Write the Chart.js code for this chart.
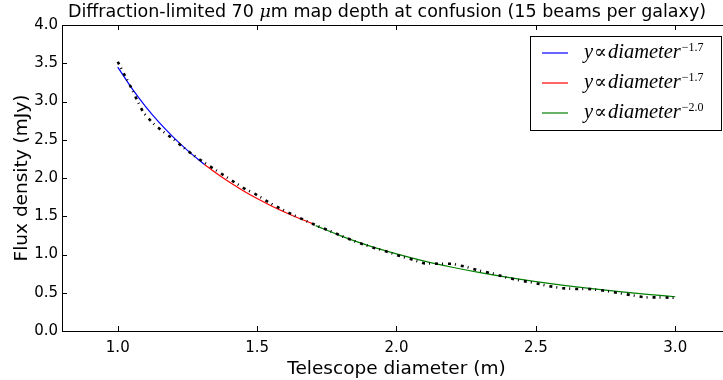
<!DOCTYPE html>
<html>
<head>
<meta charset="utf-8">
<script src="https://cdn.jsdelivr.net/npm/chart.js@4"></script>
<style>
  html, body { margin: 0; padding: 0; overflow: hidden; background: #fff; }
</style>
</head>
<body>
<canvas id="chart" width="733" height="380"></canvas>
<script>
const titleParts = ['Diffraction-limited 70 ', '\u03bc', 'm map depth at confusion (15 beams per galaxy)'];
const xTitle = 'Telescope diameter (m)';
const yTitle = 'Flux density (mJy)';
const xTicks = [1.0, 1.5, 2.0, 2.5, 3.0];
const yTicks = [0.0, 0.5, 1.0, 1.5, 2.0, 2.5, 3.0, 3.5, 4.0];

// measured map depth (black dash-dot curve)
const depthX = [1.00, 1.024, 1.047, 1.069, 1.091, 1.125, 1.161, 1.202, 1.242, 1.282, 1.323, 1.366, 1.408, 1.450, 1.494,
  1.538, 1.583, 1.628, 1.675, 1.719, 1.766, 1.811, 1.859, 1.907, 1.955, 2.003, 2.051, 2.098, 2.149, 2.199, 2.248,
  2.297, 2.346, 2.394, 2.443, 2.493, 2.542, 2.592, 2.641, 2.691, 2.740, 2.790, 2.841, 2.891, 2.941, 2.991, 3.0];
const depthY = [3.52, 3.35, 3.19, 3.02, 2.86, 2.72, 2.61, 2.50, 2.38, 2.27, 2.17, 2.07, 1.97, 1.87, 1.79,
  1.69, 1.60, 1.52, 1.44, 1.37, 1.30, 1.23, 1.16, 1.10, 1.05, 0.99, 0.94, 0.885, 0.88, 0.88, 0.84,
  0.79, 0.75, 0.70, 0.66, 0.63, 0.59, 0.56, 0.55, 0.55, 0.53, 0.50, 0.47, 0.44, 0.44, 0.435, 0.44];

// power-law fits
const blueX = [1.0, 1.05, 1.1, 1.15, 1.2, 1.25, 1.31];
const blueY = [3.45, 3.175, 2.934, 2.720, 2.531, 2.361, 2.180];
const redX = [1.31, 1.35, 1.4, 1.45, 1.5, 1.55, 1.6, 1.65, 1.7];
const redY = [2.180, 2.071, 1.947, 1.834, 1.732, 1.638, 1.552, 1.473, 1.400];
const greenX = [1.71, 1.8, 1.9, 2.0, 2.1, 2.2, 2.3, 2.4, 2.5, 2.6, 2.7, 2.8, 2.9, 3.0];
const greenY = [1.378, 1.244, 1.116, 1.008, 0.914, 0.833, 0.762, 0.700, 0.645, 0.596, 0.553, 0.514, 0.479, 0.448];
const fitExponents = ['\u22121.7', '\u22121.7', '\u22122.0'];
const fitColors = ['#0000ff', '#ff0000', '#008000'];

const pts = (xs, ys) => xs.map((x, i) => ({x: x, y: ys[i]}));

const frameAndLegend = {
  id: 'frameAndLegend',
  afterDraw(chart) {
    const ctx = chart.ctx;
    const a = chart.chartArea;
    const sx = chart.scales.x, sy = chart.scales.y;
    ctx.save();
    ctx.strokeStyle = '#000';
    ctx.lineWidth = 1;
    ctx.beginPath();
    xTicks.forEach(v => {
      const px = Math.round(sx.getPixelForValue(v)) + 0.5;
      ctx.moveTo(px, a.bottom); ctx.lineTo(px, a.bottom - 5);
      ctx.moveTo(px, a.top); ctx.lineTo(px, a.top + 5);
    });
    yTicks.forEach(v => {
      const py = Math.round(sy.getPixelForValue(v)) + 0.5;
      ctx.moveTo(a.left, py); ctx.lineTo(a.left + 5, py);
      ctx.moveTo(a.right, py); ctx.lineTo(a.right - 5, py);
    });
    ctx.stroke();
    ctx.strokeRect(Math.round(a.left) + 0.5, Math.round(a.top) + 0.5, Math.round(a.right - a.left), Math.round(a.bottom - a.top));

    // title, with an italic mu like matplotlib mathtext
    ctx.fillStyle = '#000';
    ctx.textBaseline = 'middle';
    ctx.textAlign = 'left';
    const fonts = ['17.5px "DejaVu Sans"', 'italic 17.5px "DejaVu Serif"', '17.5px "DejaVu Sans"'];
    let total = 0;
    titleParts.forEach((t, i) => { ctx.font = fonts[i]; total += ctx.measureText(t).width; });
    let tx = 387 - total / 2;
    titleParts.forEach((t, i) => { ctx.font = fonts[i]; ctx.fillText(t, tx, 12); tx += ctx.measureText(t).width; });

    // legend
    const bx = 530.5, by = 36.5, bw = 191, bh = 94;
    ctx.fillStyle = '#fff';
    ctx.fillRect(bx, by, bw, bh);
    ctx.strokeStyle = '#000';
    ctx.strokeRect(bx, by, bw, bh);
    ctx.textBaseline = 'alphabetic';
    fitExponents.forEach((e, i) => {
      const ly = 53 + i * 30;
      ctx.strokeStyle = fitColors[i];
      ctx.lineWidth = 1.2;
      ctx.beginPath();
      ctx.moveTo(542, ly); ctx.lineTo(568, ly);
      ctx.stroke();
      ctx.fillStyle = '#000';
      let x = 584;
      const base = ly + 5;
      ctx.font = 'italic 20.5px "Liberation Serif"';
      ctx.fillText('y', x, base); x += ctx.measureText('y').width + 1;
      ctx.font = '19px "DejaVu Serif"';
      ctx.fillText('\u221d', x, base); x += ctx.measureText('\u221d').width + 1;
      ctx.font = 'italic 20.5px "Liberation Serif"';
      ctx.fillText('diameter', x, base); x += ctx.measureText('diameter').width + 1;
      ctx.font = '12px "Liberation Serif"';
      ctx.fillText(e, x, base - 7);
    });
    ctx.restore();
  }
};

const fixedTicks = list => scale => { scale.ticks = list.map(v => ({value: v})); };

new Chart(document.getElementById('chart'), {
  type: 'line',
  data: {
    datasets: [
      {label: 'depth', data: pts(depthX, depthY), borderColor: '#000', borderWidth: 2.6,
       borderDash: [3, 4, 1, 5], borderCapStyle: 'butt', pointRadius: 0, tension: 0, order: 0},
      {label: 'fit1', data: pts(blueX, blueY), borderColor: fitColors[0], borderWidth: 1.2,
       pointRadius: 0, cubicInterpolationMode: 'monotone', order: 1},
      {label: 'fit2', data: pts(redX, redY), borderColor: fitColors[1], borderWidth: 1.2,
       pointRadius: 0, cubicInterpolationMode: 'monotone', order: 1},
      {label: 'fit3', data: pts(greenX, greenY), borderColor: fitColors[2], borderWidth: 1.2,
       pointRadius: 0, cubicInterpolationMode: 'monotone', order: 1}
    ]
  },
  options: {
    responsive: false,
    animation: false,
    devicePixelRatio: 1,
    layout: {padding: {top: 25, right: 2, left: 0, bottom: 0}},
    plugins: {legend: {display: false}, tooltip: {enabled: false}},
    scales: {
      x: {
        type: 'linear', min: 0.8, max: 3.2,
        afterBuildTicks: fixedTicks(xTicks),
        afterFit: s => { s.height = 49; },
        grid: {display: false, drawTicks: false},
        border: {display: false},
        ticks: {padding: 8, autoSkip: false, maxRotation: 0, color: '#000',
                font: {family: 'DejaVu Sans', size: 15}, callback: v => v.toFixed(1)},
        title: {display: true, text: xTitle, color: '#000', padding: 0,
                font: {family: 'DejaVu Sans', size: 18.5}}
      },
      y: {
        type: 'linear', min: 0, max: 4,
        afterBuildTicks: fixedTicks(yTicks),
        afterFit: s => { s.width = 62; },
        grid: {display: false, drawTicks: false},
        border: {display: false},
        ticks: {padding: 4, autoSkip: false, color: '#000',
                font: {family: 'DejaVu Sans', size: 15}, callback: v => v.toFixed(1)},
        title: {display: true, text: yTitle, color: '#000', padding: {top: 11, bottom: 0},
                font: {family: 'DejaVu Sans', size: 18.5}}
      }
    }
  },
  plugins: [frameAndLegend]
});
</script>
</body>
</html>
